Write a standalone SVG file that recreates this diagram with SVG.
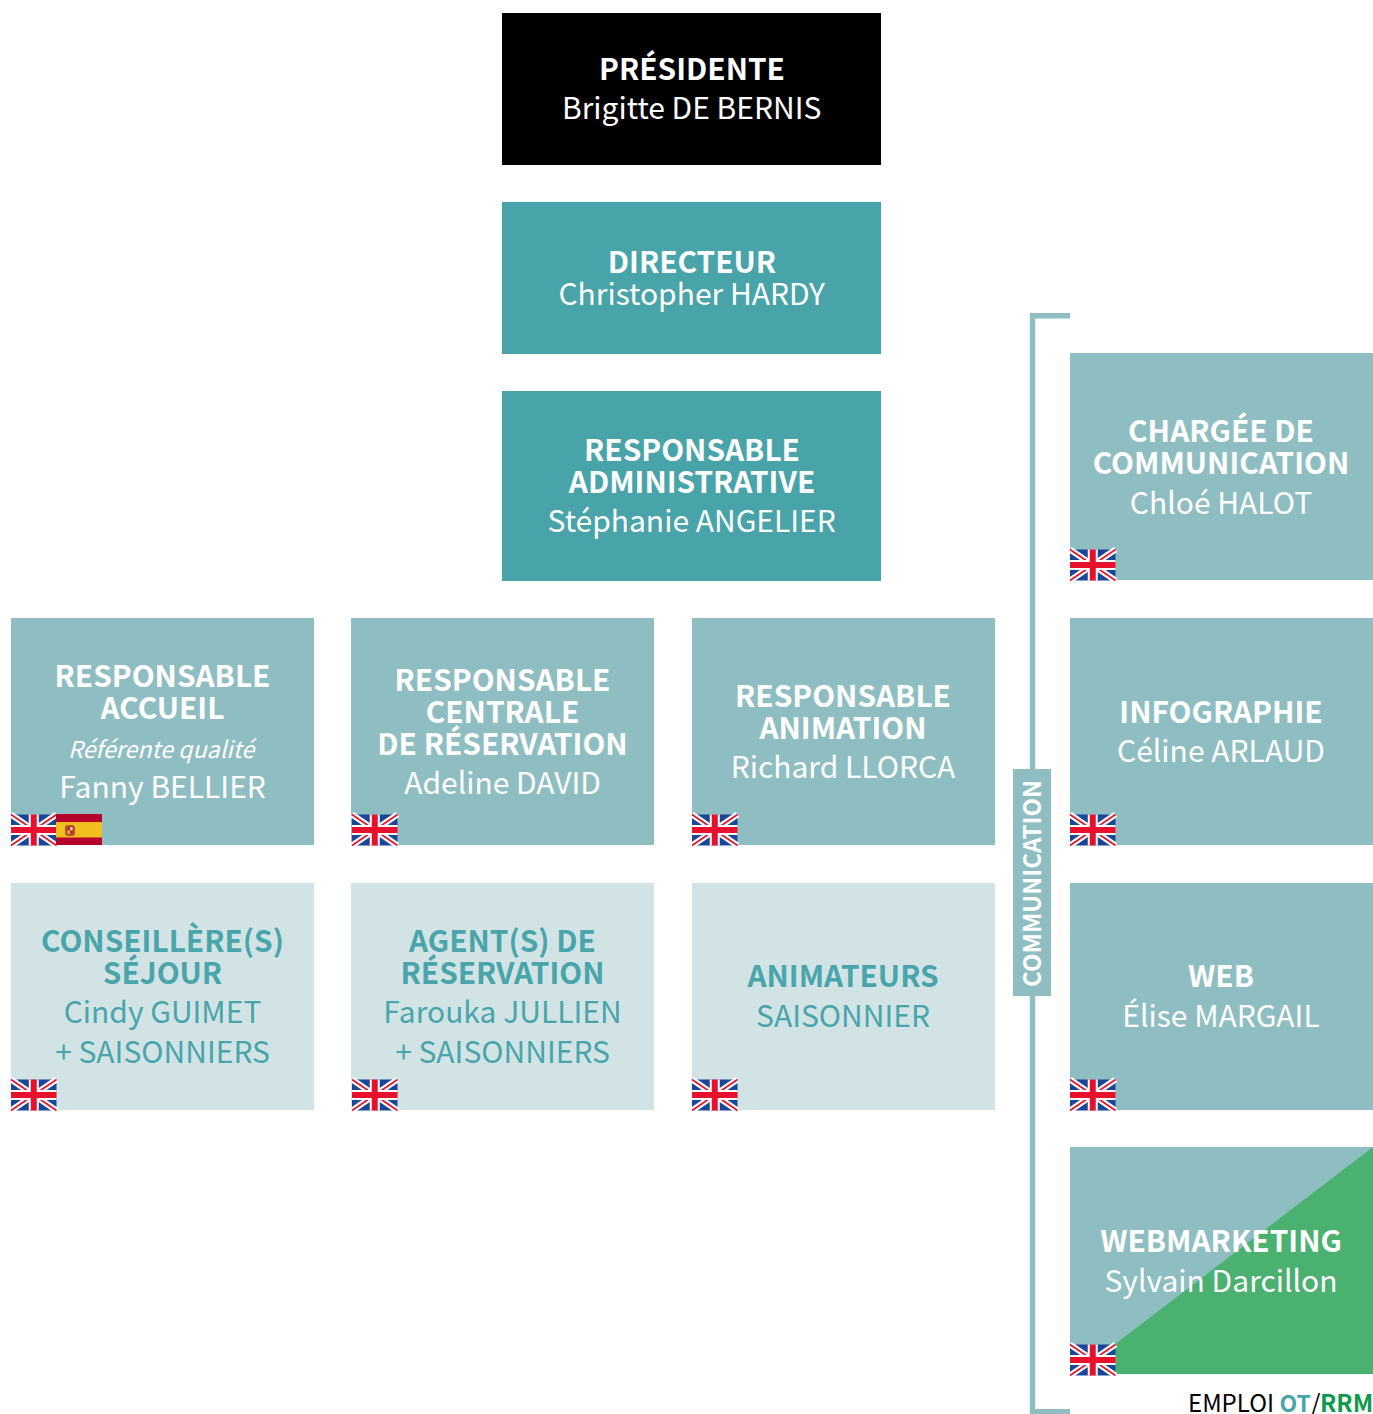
<svg xmlns="http://www.w3.org/2000/svg" width="1373" height="1414" viewBox="0 0 1373 1414">
<style>
text{font-family:"Noto Sans CJK SC","Noto Sans",sans-serif;text-anchor:middle;font-size:30px;fill:#fff}
.b{font-weight:700;font-size:29.800px}
.d{fill:#000}
.t{fill:#49a5aa}
.i{font-size:23.300px;font-style:italic}
.dark{fill:#48a4a9}.mid{fill:#8fbec2}.pale{fill:#d2e3e6}
</style>
<defs>
<g id="uk"><rect y=".5" width="45.500" height="31" fill="#1b4597"/>
<path d="M0 .5L45.500 31.500M45.500 .5L0 31.500" stroke="#fff" stroke-width="6"/>
<path d="M0 .5L45.500 31.500M45.500 .5L0 31.500" stroke="#e4122a" stroke-width="1.600"/>
<path d="M22.750 .5V31.500M0 16H45.500" stroke="#fff" stroke-width="10"/>
<path d="M22.750 .5V31.500M0 16H45.500" stroke="#e8112d" stroke-width="6"/></g>
<g id="es"><rect width="46" height="31" fill="#b5022b"/><rect y="8" width="46" height="15.500" fill="#f2bf1f"/>
<rect x="9" y="11" width="10" height="11" rx="3" fill="#b5532b"/><rect x="11.500" y="13.500" width="2.500" height="3" fill="#c8202a"/><rect x="14" y="13.500" width="2.500" height="3" fill="#e9d9b8"/><rect x="11.500" y="16.500" width="2.500" height="3" fill="#e9c34a"/><rect x="14" y="16.500" width="2.500" height="3" fill="#c8202a"/></g>
</defs>
<g id="connectors">
<path d="M1070 315.800H1032.500V1411.700H1070" fill="none" stroke="#8fbec2" stroke-width="5.500"/>
</g>
<g id="presidente"><rect x="502" y="13" width="379" height="152" fill="#000"/>
<text class="b" x="692" y="80">PRÉSIDENTE</text><text x="691.700" y="119">Brigitte DE BERNIS</text></g>
<g id="directeur"><rect class="dark" x="502" y="202" width="379" height="152"/>
<text class="b" x="692" y="273">DIRECTEUR</text><text x="691.700" y="305">Christopher HARDY</text></g>
<g id="resp-admin"><rect class="dark" x="502" y="391" width="379" height="190"/>
<text class="b" x="692" y="461">RESPONSABLE</text><text class="b" x="692" y="493">ADMINISTRATIVE</text><text x="691.700" y="532">Stéphanie ANGELIER</text></g>
<g id="resp-accueil"><rect class="mid" x="11" y="618" width="303" height="227"/>
<text class="b" x="162.500" y="687">RESPONSABLE</text><text class="b" x="162.500" y="719">ACCUEIL</text><text class="i" x="161" y="758">Référente qualité</text><text x="162.500" y="798">Fanny BELLIER</text>
<use href="#uk" x="11" y="814"/><use href="#es" x="56" y="814"/></g>
<g id="resp-reservation"><rect class="mid" x="351" y="618" width="303" height="227"/>
<text class="b" x="502.500" y="691">RESPONSABLE</text><text class="b" x="502.500" y="723">CENTRALE</text><text class="b" x="502.500" y="755">DE RÉSERVATION</text><text x="502.500" y="794">Adeline DAVID</text>
<use href="#uk" x="352" y="814"/></g>
<g id="resp-animation"><rect class="mid" x="692" y="618" width="303" height="227"/>
<text class="b" x="843" y="707">RESPONSABLE</text><text class="b" x="843" y="739">ANIMATION</text><text x="843" y="778">Richard LLORCA</text>
<use href="#uk" x="692" y="814"/></g>
<g id="conseilleres"><rect class="pale" x="11" y="883" width="303" height="227"/>
<text class="b t" x="162.500" y="952">CONSEILLÈRE(S)</text><text class="b t" x="162.500" y="984">SÉJOUR</text><text class="t" x="162.500" y="1023">Cindy GUIMET</text><text class="t" x="162.500" y="1063">+ SAISONNIERS</text>
<use href="#uk" x="11" y="1079"/></g>
<g id="agents"><rect class="pale" x="351" y="883" width="303" height="227"/>
<text class="b t" x="502.500" y="952">AGENT(S) DE</text><text class="b t" x="502.500" y="984">RÉSERVATION</text><text class="t" x="502.500" y="1023">Farouka JULLIEN</text><text class="t" x="502.500" y="1063">+ SAISONNIERS</text>
<use href="#uk" x="352" y="1079"/></g>
<g id="animateurs"><rect class="pale" x="692" y="883" width="303" height="227"/>
<text class="b t" x="843" y="987">ANIMATEURS</text><text class="t" x="843" y="1027">SAISONNIER</text>
<use href="#uk" x="692" y="1079"/></g>
<g id="communication"><rect class="mid" x="1013" y="769" width="38" height="227"/>
<text class="b" style="font-size:24px" transform="translate(1041 883.500) rotate(-90)">COMMUNICATION</text></g>
<g id="chargee"><rect class="mid" x="1070" y="353" width="303" height="227"/>
<text class="b" x="1221" y="442">CHARGÉE DE</text><text class="b" x="1221" y="474">COMMUNICATION</text><text x="1221" y="514">Chloé HALOT</text>
<use href="#uk" x="1070" y="549"/></g>
<g id="infographie"><rect class="mid" x="1070" y="618" width="303" height="227"/>
<text class="b" x="1221" y="723">INFOGRAPHIE</text><text x="1221" y="762">Céline ARLAUD</text>
<use href="#uk" x="1070" y="814"/></g>
<g id="web"><rect class="mid" x="1070" y="883" width="303" height="227"/>
<text class="b" x="1221" y="987">WEB</text><text x="1221" y="1027">Élise MARGAIL</text>
<use href="#uk" x="1070" y="1079"/></g>
<g id="webmarketing"><rect class="mid" x="1070" y="1147" width="303" height="227"/>
<path d="M1373 1147V1374H1076Z" fill="#4bb170"/>
<text class="b" x="1221" y="1252">WEBMARKETING</text><text x="1221" y="1292">Sylvain Darcillon</text>
<use href="#uk" x="1070" y="1344"/></g>
<g id="legende"><text style="text-anchor:start;font-size:24px" x="1188" y="1412"><tspan class="d">EMPLOI </tspan><tspan class="b t" x="1279.500" style="font-size:23px">OT</tspan><tspan class="d" x="1311">/</tspan><tspan class="b" x="1320" style="fill:#0d9a4f;font-size:24px">RRM</tspan></text></g>
</svg>
